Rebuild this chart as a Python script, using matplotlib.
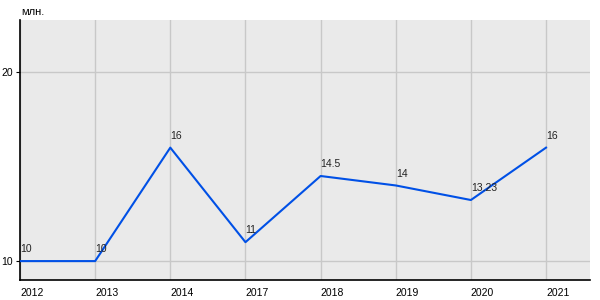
import matplotlib
matplotlib.use("Agg")
import matplotlib.pyplot as plt

plt.rcParams['font.family'] = ['Liberation Sans', 'DejaVu Sans']

years = ["2012", "2013", "2014", "2017", "2018", "2019", "2020", "2021"]
values = [10, 10, 16, 11, 14.5, 14, 13.23, 16]
labels = ["10", "10", "16", "11", "14.5", "14", "13.23", "16"]

fig = plt.figure(figsize=(6, 3), dpi=100)
ax = fig.add_axes([20/600, 20/300, 570/600, 260/300])
ax.set_facecolor("#EAEAEA")

x = list(range(len(years)))
ax.plot(x, values, color="#0050E6", linewidth=1.5, zorder=3)
for xi, v, t in zip(x, values, labels):
    ax.annotate(t, (xi, v), xytext=(0, 5), textcoords="offset points",
                fontsize=7.5, color="#222222", ha="left", va="bottom", zorder=4)

ax.set_xlim(0, 7.585)
ax.set_ylim(9, 22.75)
ax.set_xticks(x)
ax.set_xticklabels(years, fontsize=7.5, ha="left")
ax.set_yticks([10, 20])
ax.set_yticklabels(["10", "20"], fontsize=7.5)
ax.tick_params(axis="x", length=0, pad=6)
ax.tick_params(axis="y", length=3, pad=2)
ax.grid(True, color="#C8C8C8", linewidth=1)
ax.set_axisbelow(True)
for s in ["top", "right"]:
    ax.spines[s].set_visible(False)
ax.spines["left"].set_color("black")
ax.spines["bottom"].set_color("black")
ax.spines["left"].set_linewidth(1.2)
ax.spines["bottom"].set_linewidth(1.2)

fig.text(21/600, 1 - 12/300, "млн.", fontsize=8, ha="left", va="center")

fig.savefig("out.png", dpi=100)
